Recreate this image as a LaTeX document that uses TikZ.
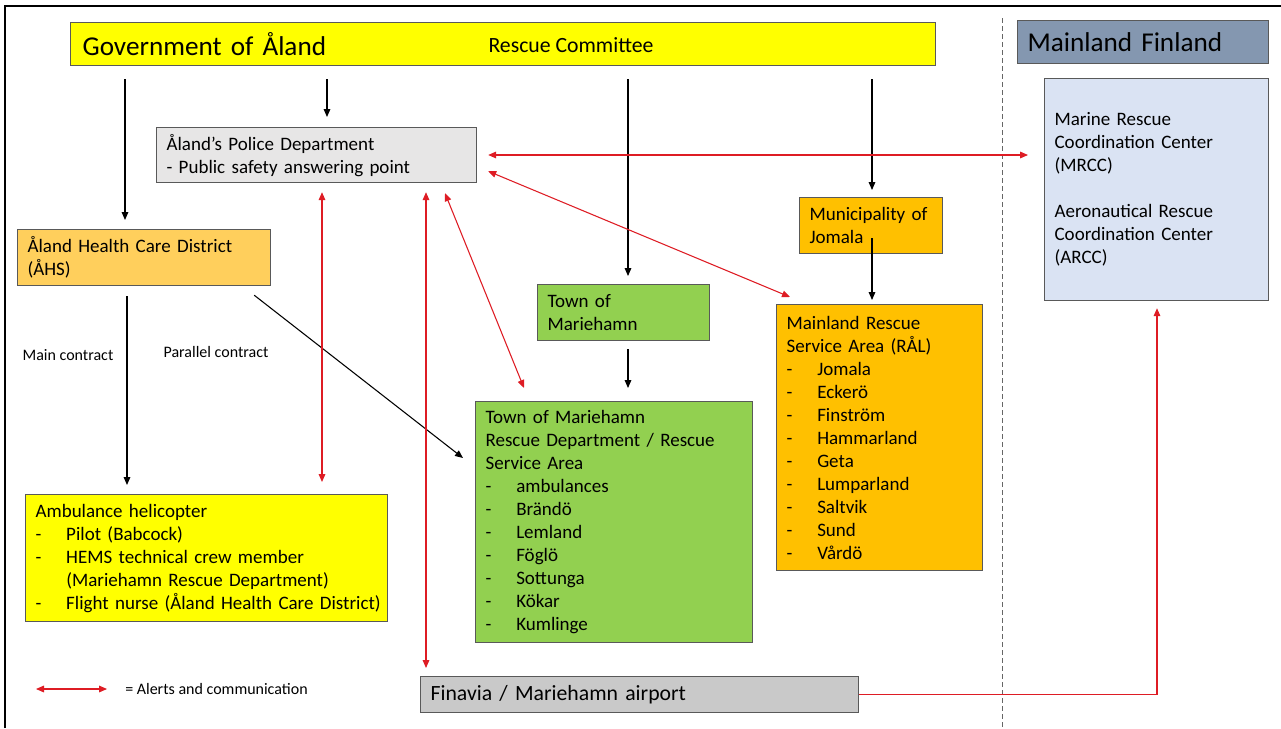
\documentclass[tikz,border=0pt]{standalone}
\usepackage{fontspec}
\setmainfont{Carlito}
\usetikzlibrary{arrows.meta,calc}
\definecolor{yel}{RGB}{255,255,0}
\definecolor{gold}{RGB}{255,207,92}
\definecolor{orng}{RGB}{255,192,0}
\definecolor{grn}{RGB}{146,208,80}
\definecolor{lblue}{RGB}{218,227,243}
\definecolor{slate}{RGB}{132,151,176}
\definecolor{lgray}{RGB}{231,230,230}
\definecolor{mgray}{RGB}{201,201,201}
\definecolor{bord}{RGB}{89,89,89}
\definecolor{redc}{RGB}{222,28,36}
\newcommand\bodyfont{\fontsize{14.25}{17.25}\selectfont}
\newcommand\bigfont{\fontsize{20.4}{24}\selectfont}
\newcommand\midfont{\fontsize{16.3}{19}\selectfont}
\newcommand\smallfont{\fontsize{12}{14}\selectfont}
\newcommand\itm[1]{\mbox{\makebox[23pt][l]{-}#1}}
\newcommand\orgbox[7]{%
  \pgfmathsetmacro\bw{(#4-#2)*0.75}%
  \pgfmathsetmacro\bh{(#5-#3)*0.75}%
  \pgfmathsetmacro\tw{(#4-#2)*0.75-15}%
  \node[orgstyle,#6,minimum width=\bw pt,minimum height=\bh pt,text width=\tw pt] (#1) at (#2,#3) {#7};}
\tikzset{
  orgstyle/.style={draw=bord, line width=0.9pt, anchor=north west, inner xsep=7.5pt, inner ysep=1pt, align=left, font=\bodyfont},
  blk/.style={draw=black, line width=0.8pt, -{Triangle[length=6pt,width=5pt]}},
  redsgl/.style={draw=redc, line width=0.8pt, -{Triangle[length=6pt,width=5pt]}},
  redbi/.style={draw=redc, line width=0.8pt, {Triangle[length=6pt,width=5pt]}-{Triangle[length=6pt,width=5pt]}},
  lbl/.style={font=\smallfont, inner sep=0pt},
}
\begin{document}
\begin{tikzpicture}[x=0.75pt,y=-0.75pt]
\useasboundingbox (0,0) rectangle (1281,728);
\fill[white] (0,0) rectangle (1281,728);
% frame
\draw[black, line width=1.6pt] (5,728) -- (5,6) -- (1281,6);
% divider
\draw[gray!80!black, line width=0.7pt, dash pattern=on 4pt off 2pt] (1002,18) -- (1002,728);

\orgbox{gov}{70}{22}{935}{65}{fill=yel, font=\bigfont}{\hspace*{1.5pt}Government of Åland}
\node[font=\midfont, inner sep=0pt] (rc) at (571,45) {Rescue Committee};
\orgbox{mf}{1017}{20}{1268}{63}{fill=slate, font=\bigfont}{Mainland Finland}
\orgbox{police}{156}{127}{476}{182}{fill=lgray}{Åland’s Police Department\\- Public safety answering point}
\orgbox{ahs}{17}{229}{270}{285}{fill=gold}{Åland Health Care District\\(ÅHS)}
\orgbox{jomala}{799}{197}{942}{253}{fill=orng}{\mbox{Municipality of}\\Jomala}
\orgbox{town}{537}{284}{709}{340}{fill=grn}{Town of\\Mariehamn}
\orgbox{green}{475}{401}{752}{642}{fill=grn}{Town of Mariehamn\\Rescue Department / Rescue\\Service Area\\\itm{ambulances}\\\itm{Brändö}\\\itm{Lemland}\\\itm{Föglö}\\\itm{Sottunga}\\\itm{Kökar}\\\itm{Kumlinge}}
\orgbox{ral}{776}{304}{982}{570}{fill=orng}{Mainland Rescue\\Service Area (RÅL)\\\itm{Jomala}\\\itm{Eckerö}\\\itm{Finström}\\\itm{Hammarland}\\\itm{Geta}\\\itm{Lumparland}\\\itm{Saltvik}\\\itm{Sund}\\\itm{Vårdö}}
\orgbox{mrcc}{1044}{78}{1268}{300}{fill=lblue}{Marine Rescue\\Coordination Center\\(MRCC)\\\mbox{}\\Aeronautical Rescue\\Coordination Center\\(ARCC)}
\orgbox{amb}{25}{494}{387}{621}{fill=yel}{Ambulance helicopter\\\itm{Pilot (Babcock)}\\\itm{HEMS technical crew member}\\\mbox{\hspace*{23pt}(Mariehamn Rescue Department)}\\\itm{Flight nurse (Åland Health Care District)}}
\orgbox{fin}{420}{676}{858}{712}{fill=mgray, font=\midfont}{Finavia / Mariehamn airport}

\node[lbl] (mainc) at (68,355) {Main contract};
\node[lbl] (parc) at (216,352) {Parallel contract};

% black arrows
\draw[blk, shorten <=9.75pt, shorten >=6.75pt] (125,0 |- gov.south) -- (125,0 |- ahs.north);
\draw[blk, shorten <=9.75pt, shorten >=7.5pt] (327,0 |- gov.south) -- (327,0 |- police.north);
\draw[blk, shorten <=9.75pt, shorten >=6pt] (628,0 |- gov.south) -- (628,0 |- town.north);
\draw[blk, shorten <=9.75pt, shorten >=5.25pt] (872,0 |- gov.south) -- (872,0 |- jomala.north);
\draw[blk, shorten <=-12pt, shorten >=3pt] (872,0 |- jomala.south) -- (872,0 |- ral.north);
\draw[blk, shorten <=6pt, shorten >=9.75pt] (628,0 |- town.south) -- (628,0 |- green.north);
\draw[blk, shorten <=7.5pt, shorten >=6.75pt] (127,0 |- ahs.south) -- (127,0 |- amb.north);
\draw[blk] ($(ahs.south east)+(-17,9)$) -- ($(green.north west)+(-12,57)$);

% red arrows
\draw[redbi, shorten <=8.25pt, shorten >=12pt] (police.east |- 0,155) -- (mrcc.west |- 0,155);
\draw[redbi] ($(police.south east)+(11,-12)$) -- ($(ral.north west)+(14,-7)$);
\draw[redbi, shorten <=6.75pt, shorten >=9pt] (322,0 |- police.south) -- (322,0 |- amb.north);
\draw[redbi, shorten <=6.75pt, shorten >=6pt] (426,0 |- police.south) -- (426,0 |- fin.north);
\draw[redbi] ($(police.south west)+(289,10)$) -- ($(green.north west)+(49,-13)$);
\draw[redsgl, shorten >=5.25pt] (fin.east) -| (1157,0 |- mrcc.south);

% legend
\coordinate (lg1) at (36,689);
\coordinate (lg2) at (107,689);
\draw[redbi] (lg1) -- (lg2);
\node[lbl, anchor=west] (legtxt) at (125,689) {= Alerts and communication};
\end{tikzpicture}
\end{document}
